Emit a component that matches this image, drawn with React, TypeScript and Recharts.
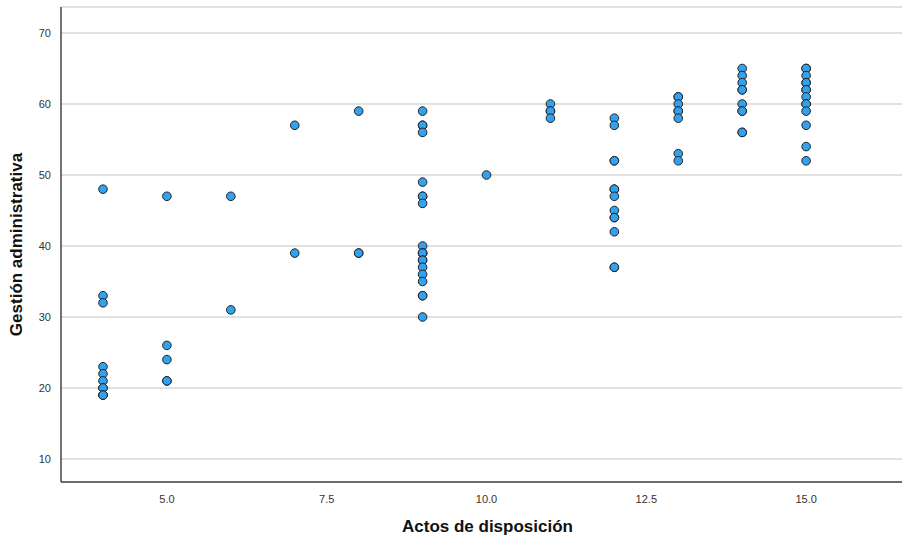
import React from 'react';
import {
  ScatterChart,
  Scatter,
  XAxis,
  YAxis,
  CartesianGrid,
  Label,
} from 'recharts';

// Actos de disposición (x) vs Gestión administrativa (y); repeated pairs are real overlaps
const actos = [
  4, 4, 4, 4, 4, 4, 4, 4, 4, 4, 4,
  5, 5, 5, 5, 5,
  6, 6,
  7, 7,
  8, 8, 8,
  9, 9, 9, 9, 9, 9, 9, 9, 9, 9, 9, 9, 9, 9, 9, 9, 9, 9, 9, 9,
  10,
  11, 11, 11, 11,
  12, 12, 12, 12, 12, 12, 12, 12, 12, 12, 12, 12, 12,
  13, 13, 13, 13, 13, 13, 13, 13,
  14, 14, 14, 14, 14, 14, 14, 14, 14, 14,
  15, 15, 15, 15, 15, 15, 15, 15, 15, 15, 15, 15, 15, 15,
];

const gestion = [
  48, 33, 32, 23, 22, 21, 20, 20, 19, 19, 19,
  47, 26, 24, 21, 21,
  47, 31,
  57, 39,
  59, 39, 39,
  59, 57, 57, 56, 49, 47, 47, 46, 40, 39, 39, 39, 38, 38, 37, 36, 35, 33, 33, 30,
  50,
  60, 59, 59, 58,
  58, 57, 52, 52, 48, 48, 47, 45, 44, 44, 42, 37, 37,
  61, 61, 60, 59, 59, 58, 53, 52,
  65, 64, 63, 62, 62, 60, 59, 59, 56, 56,
  65, 65, 64, 63, 63, 62, 62, 61, 60, 60, 59, 57, 54, 52,
];

const xTicks = [5, 7.5, 10, 12.5, 15];
const yTicks = [10, 20, 30, 40, 50, 60, 70];

const points = actos.map((x, i) => ({ x, y: gestion[i] }));

const font = '"Liberation Sans", Arial, sans-serif';

const Dot = (props: any) => {
  const { cx, cy } = props;
  return <circle cx={cx} cy={cy} r={4.3} fill="#32a2ee" stroke="#222" strokeWidth={1} />;
};

export default function App() {
  return (
    <div style={{ position: 'absolute', left: 0, top: 0, background: '#fff', fontFamily: font }}>
      <ScatterChart width={902} height={539} margin={{ top: 7, right: 0, bottom: 0, left: 0 }}>
        <CartesianGrid horizontal vertical={false} stroke="#c4c4c4" strokeWidth={1.2} />
        <XAxis
          type="number"
          dataKey="x"
          domain={[3.343, 16.5]}
          allowDataOverflow
          ticks={xTicks}
          tickFormatter={(v: number) => v.toFixed(1)}
          tickLine={false}
          tickMargin={7}
          height={57}
          axisLine={{ stroke: '#444', strokeWidth: 1.5 }}
          tick={{ fontSize: 11, fill: '#333', fontFamily: font }}
        >
          <Label
            value="Actos de disposición"
            position="insideBottom"
            offset={7}
            dx={6}
            style={{ fontSize: 17, fontWeight: 'bold', fill: '#111', fontFamily: font }}
          />
        </XAxis>
        <YAxis
          type="number"
          dataKey="y"
          domain={[6.76, 73.66]}
          allowDataOverflow
          ticks={yTicks}
          tickLine={false}
          tickMargin={4}
          width={61}
          axisLine={{ stroke: '#444', strokeWidth: 1.5 }}
          tick={{ fontSize: 11, fill: '#333', fontFamily: font }}
        >
          <Label
            value="Gestión administrativa"
            angle={-90}
            position="insideLeft"
            offset={16}
            style={{ textAnchor: 'middle', fontSize: 17, fontWeight: 'bold', fill: '#111', fontFamily: font }}
          />
        </YAxis>
        <Scatter data={points} shape={Dot} isAnimationActive={false} />
      </ScatterChart>
    </div>
  );
}
